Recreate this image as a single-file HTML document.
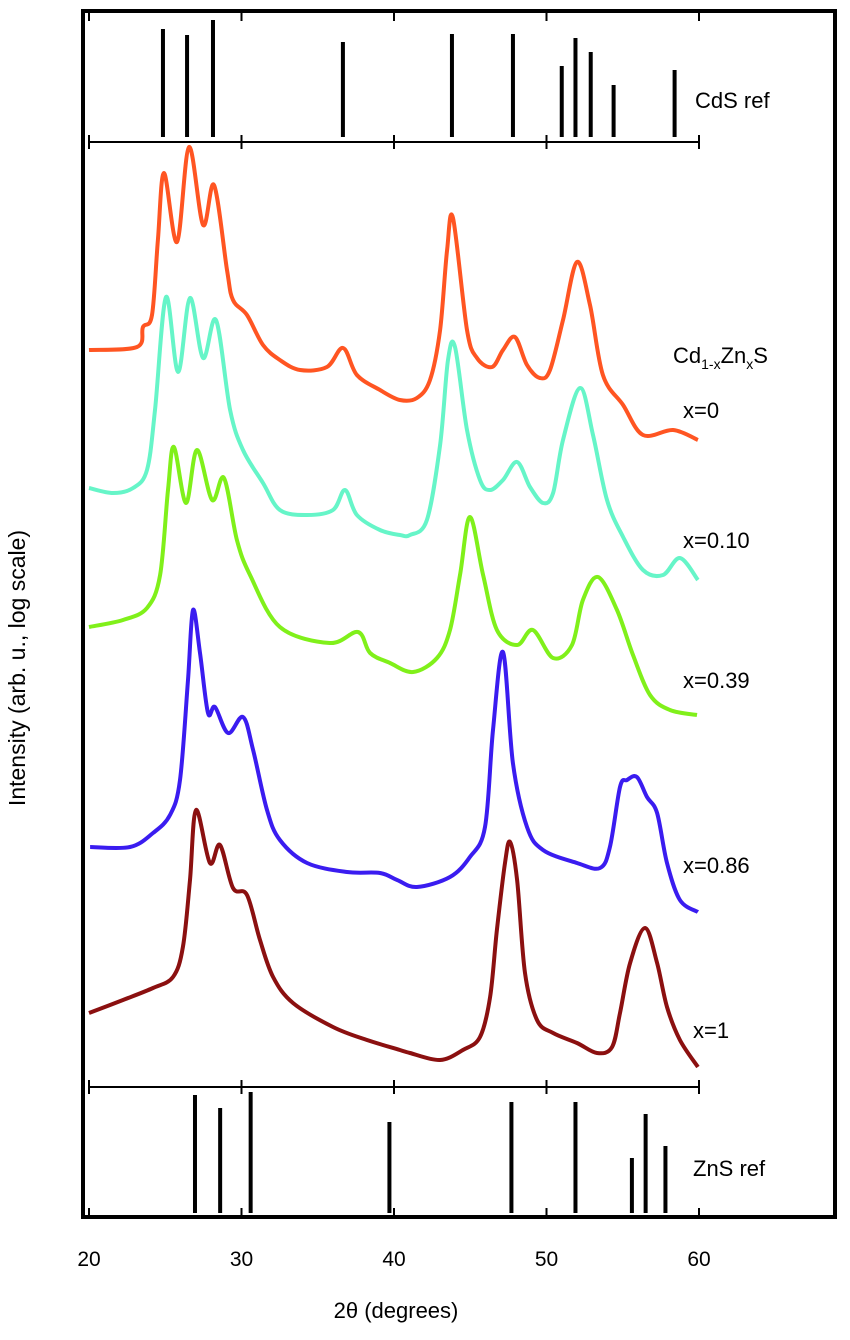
<!DOCTYPE html>
<html><head><meta charset="utf-8"><style>
html,body{margin:0;padding:0;background:#fff}
svg text{font-family:"Liberation Sans",Arial,sans-serif;fill:#000}
</style></head><body>
<svg id="chart" width="850" height="1335" viewBox="0 0 850 1335" xmlns="http://www.w3.org/2000/svg">
<rect x="83" y="11" width="752" height="1206" fill="none" stroke="#000" stroke-width="4"/>
<g id="axes"></g>
<g id="sticks"></g>
<g id="curves"></g>
<text x="695" y="108" font-size="22">CdS ref</text>
<text x="693" y="1176" font-size="22">ZnS ref</text>
<text x="673" y="363" font-size="22">Cd<tspan font-size="14" dy="6">1-x</tspan><tspan dy="-6">Zn</tspan><tspan font-size="14" dy="6">x</tspan><tspan dy="-6">S</tspan></text>
<text x="683" y="418" font-size="22">x=0</text>
<text x="683" y="548" font-size="22">x=0.10</text>
<text x="683" y="688" font-size="22">x=0.39</text>
<text x="683" y="873" font-size="22">x=0.86</text>
<text x="693" y="1038" font-size="22">x=1</text>
<text x="396" y="1318" font-size="22" text-anchor="middle">2θ (degrees)</text>
<text transform="translate(25,668) rotate(-90)" font-size="23" text-anchor="middle">Intensity (arb. u., log scale)</text>
</svg>
<script>
const xTicks = [20, 30, 40, 50, 60];
const cdsPos = [24.85, 26.43, 28.13, 36.65, 43.8, 47.8, 51.0, 51.9, 52.9, 54.4, 58.4];
const cdsInt = [108, 102, 117, 95, 103, 103, 71, 99, 85, 52, 67];
const znsPos = [26.95, 28.6, 30.6, 39.7, 47.7, 51.9, 55.6, 56.5, 57.8];
const znsInt = [118, 105, 121, 91, 111, 111, 55, 99, 67];

const x0Deg = [20.0,23.15,23.54,24.13,24.52,24.92,25.77,26.56,27.48,28.2,29.05,29.44,30.36,31.41,32.52,33.84,35.6,36.66,37.57,39.08,40.39,41.5,42.36,43.02,43.48,43.87,44.79,45.44,46.43,47.15,47.93,48.72,49.57,50.23,51.08,52.0,52.85,53.7,55.02,56.33,58.3,59.93];
const x0Int = [737,740,760,772,847,914,845,940,862,902,817,787,772,742,727,717,720,739,712,697,687,689,707,757,837,869,757,729,720,737,750,722,709,717,767,825,782,712,682,652,657,647];
const x010Deg = [20.0,21.57,22.89,23.8,24.33,25.05,25.84,26.62,27.48,28.33,29.25,30.1,31.41,32.52,34.3,36.0,36.79,37.57,39.08,40.39,41.05,42.16,43.02,43.54,44.0,44.79,45.64,46.3,47.15,48.07,48.92,49.77,50.43,51.08,52.2,53.05,53.97,55.02,56.33,57.64,58.75,59.93];
const x010Int = [599,594,599,617,677,790,715,789,729,767,677,637,604,577,572,577,597,572,557,552,552,567,642,727,740,657,607,597,607,625,600,584,594,647,699,652,587,550,517,512,529,507];
const x039Deg = [20.0,22.23,23.8,24.66,25.18,25.57,26.36,27.08,28.07,28.85,29.7,30.56,32.52,35.8,37.64,38.43,39.74,41.25,42.82,43.67,44.33,44.98,45.84,46.75,48.07,49.11,50.43,51.67,52.39,53.38,54.62,55.67,56.79,58.1,59.87];
const x039Int = [460,467,479,512,597,640,584,637,587,609,547,512,460,444,455,434,424,415,429,457,512,570,512,457,442,457,429,442,487,510,477,432,392,377,372];
const x086Deg = [20.07,22.69,24.2,25.31,25.97,26.49,26.82,27.28,27.8,28.26,29.12,30.1,30.76,31.67,32.52,34.3,36.92,39.08,40.2,41.5,43.67,44.98,45.97,46.49,47.15,47.8,48.72,49.77,52.0,53.51,54.16,54.82,55.28,55.93,56.59,57.25,57.9,58.75,59.93];
const x086Int = [240,240,254,272,307,407,477,434,374,380,354,370,337,277,247,224,215,214,207,200,210,230,260,357,435,324,260,237,224,219,240,300,307,310,290,274,224,187,175];
const x1Deg = [20.0,22.23,24.2,25.51,26.16,26.62,27.02,27.93,28.59,29.44,30.36,31.21,32.07,33.38,36.0,38.23,40.39,41.05,43.02,44.52,45.64,46.3,46.75,47.28,47.61,48.07,48.59,49.38,50.43,52.0,53.31,54.3,54.82,55.48,56.46,57.25,57.9,58.75,59.93];
const x1Int = [74,87,99,110,140,207,277,224,242,199,192,147,110,84,60,47,37,34,27,37,50,90,157,224,245,207,114,67,54,44,34,40,74,124,159,124,80,47,20];

const NS = "http://www.w3.org/2000/svg";
function xs(d){ return 89 + (d - 20) * 15.25; }
function ys(v){ return 1087 - v; }
function mk(tag, parent){ const e = document.createElementNS(NS, tag); parent.appendChild(e); return e; }

const axes = document.getElementById('axes');
function hline(y, name){
  const l = mk('line', axes);
  
  
  l.setAttribute('x1', 89); l.setAttribute('x2', 699);
  l.setAttribute('y1', y); l.setAttribute('y2', y);
  l.setAttribute('stroke', '#000'); l.setAttribute('stroke-width', 2);
}
hline(142, 'cds-panel-divider');
hline(1087, 'zns-panel-divider');
xTicks.forEach(t => {
  const x = xs(t);
  [[11,21],[135,149],[1080,1094],[1208,1217]].forEach(([a,b]) => {
    const tk = mk('line', axes);
    
    
    tk.setAttribute('x1', x); tk.setAttribute('x2', x);
    tk.setAttribute('y1', a); tk.setAttribute('y2', b);
    tk.setAttribute('stroke', '#000'); tk.setAttribute('stroke-width', 2);
  });
  const tl = mk('text', axes);
  
  
  tl.setAttribute('x', x); tl.setAttribute('y', 1266);
  tl.setAttribute('font-size', 21); tl.setAttribute('text-anchor', 'middle');
  tl.textContent = t;
});

const sticks = document.getElementById('sticks');
function drawSticks(pos, ints, base, name){
  pos.forEach((p, i) => {
    const s = mk('line', sticks);
    
    
    s.setAttribute('x1', xs(p)); s.setAttribute('x2', xs(p));
    s.setAttribute('y1', base); s.setAttribute('y2', base - ints[i]);
    s.setAttribute('stroke', '#000'); s.setAttribute('stroke-width', 4);
  });
}
drawSticks(cdsPos, cdsInt, 137, 'cds-ref-stick');
drawSticks(znsPos, znsInt, 1213, 'zns-ref-stick');

const curves = document.getElementById('curves');
function smoothPath(pts){
  let d = 'M' + pts[0][0].toFixed(1) + ',' + pts[0][1].toFixed(1);
  for (let i = 0; i < pts.length - 1; i++) {
    const p0 = pts[Math.max(0, i - 1)], p1 = pts[i], p2 = pts[i + 1], p3 = pts[Math.min(pts.length - 1, i + 2)];
    const c1x = p1[0] + (p2[0] - p0[0]) / 6, c1y = p1[1] + (p2[1] - p0[1]) / 6;
    const c2x = p2[0] - (p3[0] - p1[0]) / 6, c2y = p2[1] - (p3[1] - p1[1]) / 6;
    d += ' C' + c1x.toFixed(1) + ',' + c1y.toFixed(1) + ' ' + c2x.toFixed(1) + ',' + c2y.toFixed(1) + ' ' + p2[0].toFixed(1) + ',' + p2[1].toFixed(1);
  }
  return d;
}
function drawCurve(deg, ints, color, name){
  const p = mk('path', curves);
  
  
  p.setAttribute('d', smoothPath(deg.map((d, i) => [xs(d), ys(ints[i])])));
  p.setAttribute('fill', 'none');
  p.setAttribute('stroke', color);
  p.setAttribute('stroke-width', 4);
  p.setAttribute('stroke-linejoin', 'round');
}
drawCurve(x0Deg, x0Int, '#ff5522', 'curve-x0');
drawCurve(x010Deg, x010Int, '#66f5c8', 'curve-x010');
drawCurve(x039Deg, x039Int, '#80f01a', 'curve-x039');
drawCurve(x086Deg, x086Int, '#3a1cf0', 'curve-x086');
drawCurve(x1Deg, x1Int, '#8b1010', 'curve-x1');
</script>
</body></html>
